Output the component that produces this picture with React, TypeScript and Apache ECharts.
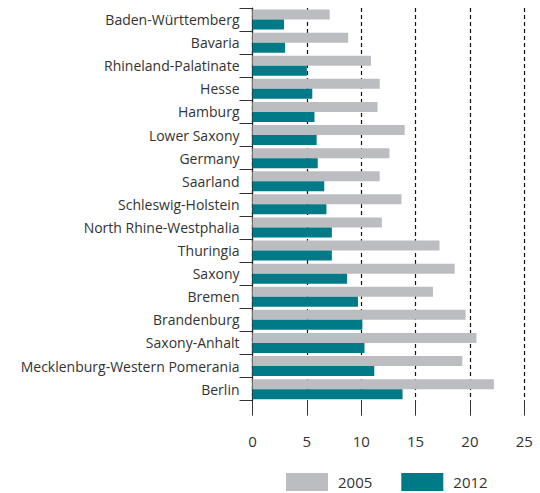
import React, { useEffect, useRef } from "react";
import * as echarts from "echarts";

const categories = [
  "Baden-Württemberg",
  "Bavaria",
  "Rhineland-Palatinate",
  "Hesse",
  "Hamburg",
  "Lower Saxony",
  "Germany",
  "Saarland",
  "Schleswig-Holstein",
  "North Rhine-Westphalia",
  "Thuringia",
  "Saxony",
  "Bremen",
  "Brandenburg",
  "Saxony-Anhalt",
  "Mecklenburg-Western Pomerania",
  "Berlin",
];
const values2005 = [7.1, 8.8, 10.9, 11.7, 11.5, 14.0, 12.6, 11.7, 13.7, 11.9, 17.2, 18.6, 16.6, 19.6, 20.6, 19.3, 22.2];
const values2012 = [2.9, 3.0, 5.0, 5.5, 5.7, 5.9, 6.0, 6.6, 6.8, 7.3, 7.3, 8.7, 9.7, 10.1, 10.3, 11.2, 13.8];
const seriesNames = ["2005", "2012"];
const xTicks = { min: 0, max: 25, interval: 5 };

const FONT = "'Open Sans', sans-serif";
const TEXT = "#333333";

export default function App() {
  const ref = useRef<HTMLDivElement>(null);
  useEffect(() => {
    if (!ref.current) return;
    const chart = echarts.init(ref.current, null, { renderer: "svg" });
    chart.setOption({
      animation: false,
      backgroundColor: "#ffffff",
      textStyle: { fontFamily: FONT },
      grid: { left: 252.5, right: 15.7, top: 8, bottom: 92.3, containLabel: false },
      legend: {
        left: 286,
        top: 473,
        padding: 0,
        itemWidth: 42,
        itemHeight: 18,
        itemGap: 29,
        icon: "rect",
        textStyle: { fontFamily: FONT, fontSize: 15, color: TEXT, padding: [0, 0, 0, 5] },
        data: seriesNames,
      },
      xAxis: {
        type: "value",
        min: xTicks.min,
        max: xTicks.max,
        interval: xTicks.interval,
        axisLine: { show: false },
        axisTick: { show: true, length: 15, lineStyle: { color: "#333", width: 1 } },
        axisLabel: { margin: 33, fontFamily: FONT, fontSize: 15, color: TEXT },
        splitLine: { show: true, lineStyle: { color: "#111", type: [4, 3], width: 1.2 } },
      },
      yAxis: {
        type: "category",
        inverse: true,
        data: categories,
        axisLine: { show: true, lineStyle: { color: "#231f20", width: 1.2 } },
        axisTick: { show: true, length: 13, lineStyle: { color: "#333", width: 1 } },
        axisLabel: { margin: 13, fontFamily: FONT, fontSize: 14, color: TEXT },
        splitLine: { show: false },
      },
      series: [
        {
          name: seriesNames[0],
          type: "bar",
          data: values2005,
          barWidth: 10,
          barGap: "0%",
          itemStyle: { color: "#bcbdc1" },
        },
        {
          name: seriesNames[1],
          type: "bar",
          data: values2012,
          barWidth: 10,
          barGap: "0%",
          itemStyle: { color: "#007a86" },
        },
      ],
    });
    return () => chart.dispose();
  }, []);
  return (
    <div
      ref={ref}
      style={{ position: "fixed", left: 0, top: 0, width: 540, height: 493, background: "#fff" }}
    />
  );
}
